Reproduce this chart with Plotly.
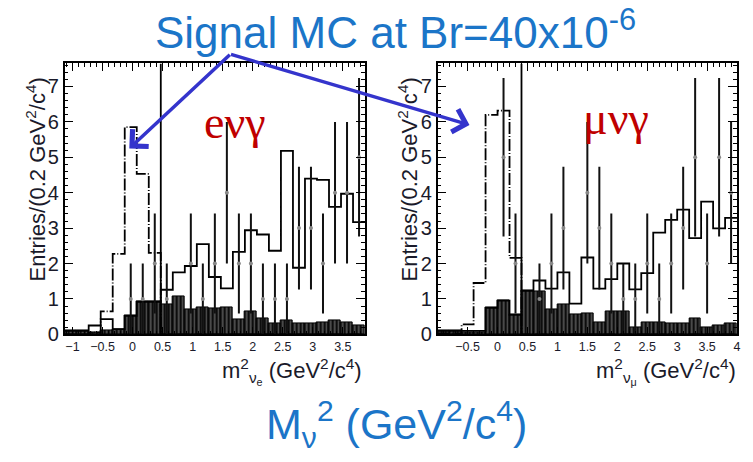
import numpy as np
import plotly.graph_objects as go

# ---------------- data ----------------
# left panel (e nu gamma): 25 bins of 0.2 starting at -1.13
left_bin_start = -1.13
left_bin_width = 0.2
left_signal = [0.0, 0.0, 0.05, 0.65, 2.27, 5.85, 4.53, 2.3, 0, 0, 0, 0, 0, 0, 0, 0, 0, 0, 0, 0, 0, 0, 0, 0, 0]
left_bkg = [0.1, 0.1, 0.25, 0.43, 0.15, 0.52, 0.92, 0.92, 1.26, 1.75, 1.93, 2.55, 1.62, 1.3, 2.33, 2.94,
            2.82, 2.36, 5.18, 1.88, 4.4, 4.36, 3.6, 3.97, 3.17]
left_hatched = [0.1, 0.1, 0.05, 0.1, 0.15, 0.52, 0.92, 0.92, 0.85, 1.07, 0.7, 0.75, 0.72, 0.75, 0.42, 0.65,
                0.45, 0.3, 0.4, 0.3, 0.3, 0.35, 0.38, 0.35, 0.25]
left_data = [0, 0, 0, 0, 0, 1, 1, 2, 1, 0, 2, 1, 2, 4, 2, 2, 1, 1, 1, 3, 3, 2, 4, 4, 5]
left_cut = 0.47
left_xticks = [-1, -0.5, 0, 0.5, 1, 1.5, 2, 2.5, 3, 3.5]

# right panel (mu nu gamma): 25 bins of 0.2 starting at -1.0
right_bin_start = -1.0
right_bin_width = 0.2
right_signal = [0.03, 0.03, 0.28, 1.45, 6.2, 6.32, 2.16, 0, 0, 0, 0, 0, 0, 0, 0, 0, 0, 0, 0, 0, 0, 0, 0, 0, 0]
right_bkg = [0.1, 0.1, 0.1, 0.1, 0.75, 0.95, 0.55, 1.23, 1.52, 1.29, 1.75, 0.87, 2.17, 1.29, 1.56, 2.0,
             1.27, 1.73, 2.87, 3.23, 3.52, 2.72, 3.75, 2.99, 3.29]
right_hatched = [0.1, 0.1, 0.05, 0.05, 0.75, 0.95, 0.55, 1.25, 1.2, 0.7, 0.85, 0.55, 0.6, 0.35, 0.65, 0.65,
                 0.2, 0.35, 0.35, 0.3, 0.3, 0.45, 0.2, 0.25, 0.3]
right_data = [0, 0, 0, 0, 0, 5, 2, 0, 1, 2, 3, 0, 4, 3, 2, 1, 1, 2, 1, 2, 3, 5, 2, 5, 4]
right_cut = 0.4
right_xticks = [-0.5, 0, 0.5, 1, 1.5, 2, 2.5, 3, 3.5, 4]

y_ticks = [0, 1, 2, 3, 4, 5, 6, 7]

# ---------------- figure ----------------
W, H = 753, 462
fig = go.Figure()

def px(x):
    return x / W

def py(y):
    return 1 - y / H

def add_panel(xa, ya, start, width, signal, bkg, hatched, data, cut, ymax):
    n = len(bkg)
    edges = start + width * np.arange(n + 1)
    centers = start + width * (np.arange(n) + 0.5)
    # hatched component
    fig.add_trace(go.Bar(x=centers, y=hatched, width=width, xaxis=xa, yaxis=ya,
                         marker=dict(color="#0d0d0d", line=dict(color="black", width=1),
                                     pattern=dict(shape="|", fgcolor="white", bgcolor="#0d0d0d",
                                                  size=4, solidity=0.25)),
                         showlegend=False))
    # background histogram
    fig.add_trace(go.Scatter(x=edges, y=list(bkg) + [bkg[-1]], mode="lines", line_shape="hv",
                             line=dict(color="black", width=1.8), xaxis=xa, yaxis=ya, showlegend=False))
    # signal histogram (dash-dot)
    fig.add_trace(go.Scatter(x=edges, y=list(signal) + [signal[-1]], mode="lines", line_shape="hv",
                             line=dict(color="black", width=1.8, dash="12px,2px,1px,2px"),
                             xaxis=xa, yaxis=ya, showlegend=False))
    # data points
    d = np.array(data, dtype=float)
    m = d > 0
    fig.add_trace(go.Scatter(x=centers[m], y=d[m], mode="markers",
                             marker=dict(size=4, color="#888888"),
                             error_y=dict(type="data", array=np.sqrt(d[m]), width=0, thickness=2,
                                          color="#111111"),
                             xaxis=xa, yaxis=ya, showlegend=False))
    # cut line
    fig.add_trace(go.Scatter(x=[cut, cut], y=[0, ymax], mode="lines",
                             line=dict(color="black", width=1.8), xaxis=xa, yaxis=ya, showlegend=False))

YMAX = 7.65
add_panel("x", "y", left_bin_start, left_bin_width, left_signal, left_bkg, left_hatched, left_data, left_cut, YMAX)
add_panel("x2", "y2", right_bin_start, right_bin_width, right_signal, right_bkg, right_hatched, right_data, right_cut, YMAX)

ydom = [py(342.5), py(65)]
common_x = dict(ticks="inside", ticklen=8, tickwidth=1.2, tickcolor="black",
                minor=dict(ticks="inside", ticklen=4, dtick=0.1, tick0=0, tickcolor="black", tickwidth=1),
                showline=True, linecolor="black", linewidth=1.6, mirror="allticks",
                showgrid=False, zeroline=False,
                tickfont=dict(family="Liberation Sans, Arial", size=12.5, color="#1a1a2a"))
common_y = dict(ticks="inside", ticklen=9, tickwidth=1.2, tickcolor="black",
                minor=dict(ticks="inside", ticklen=4, dtick=0.2, tick0=0, tickcolor="black", tickwidth=1),
                showline=True, linecolor="black", linewidth=1.6, mirror="allticks",
                showgrid=False, zeroline=False, range=[0, YMAX], tickvals=y_ticks,
                tickfont=dict(family="Liberation Sans, Arial", size=20, color="#1a1a2a"))

fig.update_layout(
    width=W, height=H, margin=dict(l=0, r=0, t=0, b=0),
    paper_bgcolor="white", plot_bgcolor="white", barmode="overlay", bargap=0,
    xaxis=dict(domain=[px(65), px(367)], range=[left_bin_start, left_bin_start + 25 * left_bin_width],
               tickvals=left_xticks, anchor="y", **common_x),
    yaxis=dict(domain=ydom, anchor="x", **common_y),
    xaxis2=dict(domain=[px(440), px(741)], range=[right_bin_start, right_bin_start + 25 * right_bin_width],
                tickvals=right_xticks, anchor="y2", **common_x),
    yaxis2=dict(domain=ydom, anchor="x2", **common_y),
)

ann = []
blue = "#1b75c8"
def text(t, x, y, size, color, family="Liberation Sans, Arial", xanchor="center", angle=0):
    ann.append(dict(text=t, x=px(x), y=py(y), xref="paper", yref="paper", showarrow=False,
                    xanchor=xanchor, yanchor="middle", textangle=angle,
                    font=dict(family=family, size=size, color=color)))

text("Signal MC at Br=40x10<sup>-6</sup>", 398, 30, 44, blue)
text("M<sub>ν</sub><sup>2</sup> (GeV<sup>2</sup>/c<sup>4</sup>)", 399, 434, 43, blue)
ytitle = "Entries/(0.2 GeV<sup>2</sup>/c<sup>4</sup>)"
for xx in (36, 410):
    text(ytitle, xx, 184, 22, "#1a1a2a", angle=-90)
text("m<sup>2</sup><sub>ν<sub>e</sub></sub> (GeV<sup>2</sup>/c<sup>4</sup>)", 366, 381, 22, "#1a1a2a", xanchor="right")
text("m<sup>2</sup><sub>ν<sub>μ</sub></sub> (GeV<sup>2</sup>/c<sup>4</sup>)", 742, 381, 22, "#1a1a2a", xanchor="right")
red = "#c00000"
text("eνγ", 236, 126, 46, red, family="Liberation Serif, Times New Roman")
text("μνγ", 619, 121, 46, red, family="Liberation Serif, Times New Roman")

arrow_col = "#3434cc"
for hx, hy in ((130, 152), (472, 128)):
    ann.append(dict(text="", x=px(hx), y=py(hy), xref="paper", yref="paper", showarrow=True,
                    ax=232 - hx, ay=57 - hy, axref="pixel", ayref="pixel",
                    arrowhead=4, arrowsize=1.3, arrowwidth=3.5, arrowcolor=arrow_col))
fig.update_layout(annotations=ann)

fig.write_html("out.html")
